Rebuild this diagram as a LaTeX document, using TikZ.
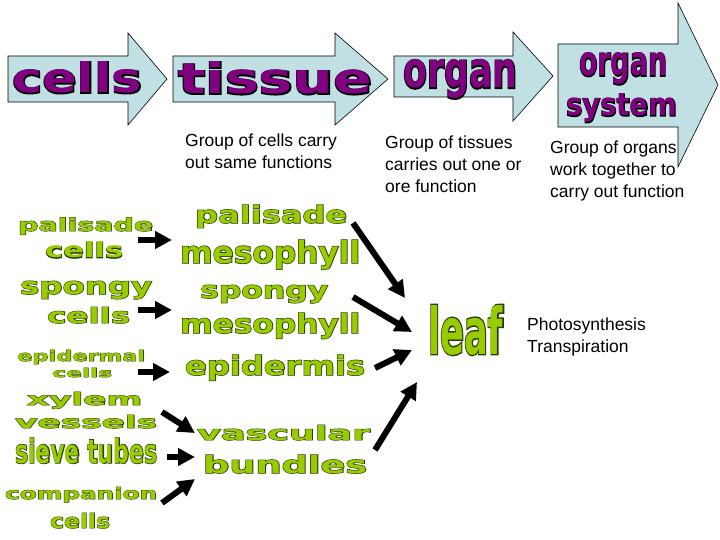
\documentclass[tikz,border=0pt]{standalone}
\usepackage{fontspec}
\setmainfont{Liberation Sans}
\newfontfamily\artfont{DejaVu Sans}
\newfontfamily\artnarrow{DejaVu Sans Condensed}
\usepackage{graphicx}
\usetikzlibrary{arrows.meta}

\definecolor{arrowfill}{RGB}{192,224,228}
\definecolor{wordpurple}{RGB}{128,0,128}
\definecolor{wordgreen}{RGB}{153,204,0}
\definecolor{wordedge}{RGB}{40,60,0}

% text with a dark edge behind it (fill colour, edge colour, text)
\newcommand{\edgetext}[3]{\rlap{\color{#2}\special{pdf:literal direct 2 Tr 0.9 w}#3\special{pdf:literal direct 0 Tr}}{\color{#1}#3}}
% stretched outline words (width, height above baseline, text)
\newcommand{\topword}[3]{\resizebox{#1pt}{#2pt}{\fontsize{20}{24}\artfont\bfseries\edgetext{wordpurple}{black}{#3}}}
\newcommand{\partword}[3]{\resizebox{#1pt}{#2pt}{\fontsize{20}{24}\artfont\bfseries\edgetext{wordgreen}{wordedge}{#3}}}
\newcommand{\narrowword}[3]{\resizebox{#1pt}{#2pt}{\fontsize{20}{24}\artnarrow\bfseries\edgetext{wordgreen}{wordedge}{#3}}}

\begin{document}
\begin{tikzpicture}[x=1pt, y=-1pt,
  blockarrow/.style={draw=black, line width=0.6pt, fill=arrowfill},
  word/.style={inner sep=0pt, anchor=base west},
  note/.style={inner sep=0pt, anchor=north west, align=left, font=\fontsize{17.5}{22}\selectfont},
  bigarrow/.style={line width=6pt, -{Triangle[length=17pt,width=17pt]}}]
  \useasboundingbox[fill=white] (0,0) rectangle (720,540);

  % --- levels: block arrows ---
  \draw[blockarrow] (8,56) -- (128,56) -- (128,33) -- (167,79) -- (128,125) -- (128,102) -- (8,102) -- cycle;
  \draw[blockarrow] (173,56) -- (335,56) -- (335,33) -- (388,79) -- (335,125) -- (335,102) -- (173,102) -- cycle;
  \draw[blockarrow] (394,56) -- (513,56) -- (513,32) -- (553,76) -- (513,121) -- (513,97) -- (394,97) -- cycle;
  \draw[blockarrow] (558,44) -- (678,44) -- (678,3) -- (718,85) -- (678,167) -- (678,127) -- (558,127) -- cycle;

  \node[word] (cellsT) at (12,93) {\topword{130}{31}{cells}};
  \node[word] (tissueT) at (178,94) {\topword{194}{32}{tissue}};
  \node[word] (organT) at (403,88) {\topword{114}{28}{organ}};
  \node[word] (sysorganT) at (579,76) {\topword{88}{23}{organ}};
  \node[word] (systemT) at (566,116) {\topword{111}{22}{system}};

  % --- descriptions ---
  \node[note] (tissueN) at (185,134) {Group of cells carry\\out same functions};
  \node[note] (organN) at (385,136) {Group of tissues\\carries out one or\\ore function};
  \node[note] (systemN) at (550,141) {Group of organs\\work together to\\carry out function};
  \node[note] (leafN) at (527,318) {Photosynthesis\\Transpiration};

  % --- cells ---
  \node[word] (palC) at (18,231) {\partword{135}{13.5}{palisade}};
  \node[word] (palC2) at (45,258) {\partword{78}{16}{cells}};
  \node[word] (spoC) at (20,294) {\partword{132}{13}{spongy}};
  \node[word] (spoC2) at (47,323) {\partword{83}{16}{cells}};
  \node[word] (epiC) at (17,361) {\partword{128}{11}{epidermal}};
  \node[word] (epiC2) at (52,377) {\partword{60}{9}{cells}};
  \node[word] (xylC) at (27,405) {\partword{115}{13}{xylem}};
  \node[word] (xylC2) at (15,428) {\partword{142}{13}{vessels}};
  \node[word] (sieC) at (15,463) {\narrowword{142}{25}{sieve tubes}};
  \node[word] (comC) at (5,499) {\partword{152}{12}{companion}};
  \node[word] (comC2) at (50,528) {\partword{60}{15}{cells}};

  % --- tissues ---
  \node[word] (palT) at (195,223) {\partword{152}{18}{palisade}};
  \node[word] (palT2) at (180,263) {\partword{180}{23}{mesophyll}};
  \node[word] (spoT) at (200,298) {\partword{128}{13}{spongy}};
  \node[word] (spoT2) at (180,333) {\partword{180}{20}{mesophyll}};
  \node[word] (epiT) at (185,375) {\partword{180}{20}{epidermis}};
  \node[word] (vasT) at (197,440) {\partword{173}{15}{vascular}};
  \node[word] (vasT2) at (203,473) {\partword{164}{18}{bundles}};

  % --- organ ---
  \node[word] (leafO) at (428,354) {\narrowword{75}{49}{leaf}};

  % --- connectors ---
  \coordinate (a1) at (138,240); \coordinate (b1) at (172,240);
  \coordinate (a2) at (138,310); \coordinate (b2) at (172,310);
  \coordinate (a3) at (138,372); \coordinate (b3) at (170,372);
  \coordinate (a4) at (162,412); \coordinate (b4) at (195,433);
  \coordinate (a5) at (167,457); \coordinate (b5) at (195,457);
  \coordinate (a6) at (162,503); \coordinate (b6) at (195,479);
  \coordinate (c1) at (353,223); \coordinate (d1) at (405,298);
  \coordinate (c2) at (353,297); \coordinate (d2) at (412,332);
  \coordinate (c3) at (375,368); \coordinate (d3) at (412,350);
  \coordinate (c4) at (375,450); \coordinate (d4) at (417,382);
  \foreach \s/\e in {a1/b1, a2/b2, a3/b3, a4/b4, a5/b5, a6/b6, c1/d1, c2/d2, c3/d3, c4/d4}
    \draw[bigarrow] (\s) -- (\e);
\end{tikzpicture}
\end{document}
